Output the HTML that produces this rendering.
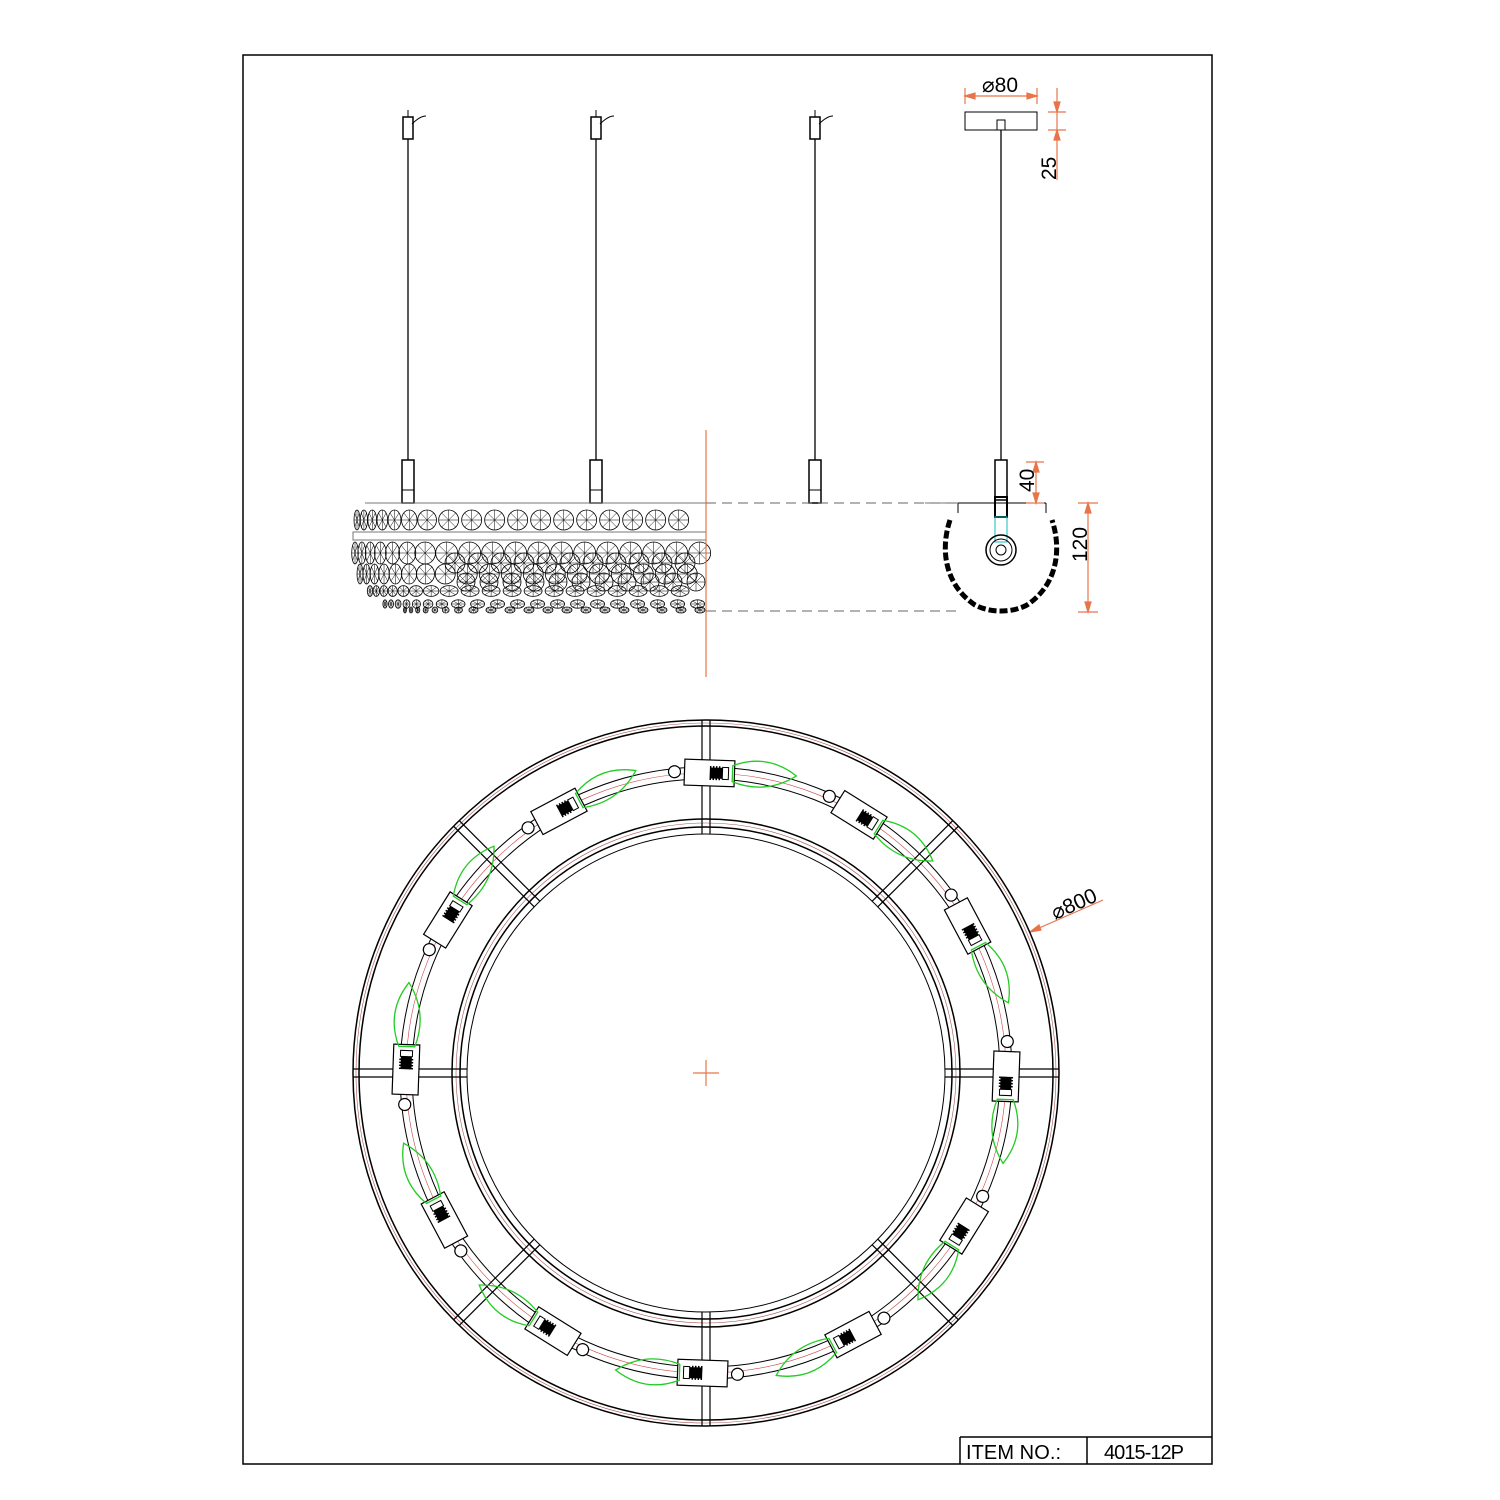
<!DOCTYPE html>
<html><head><style>
body{margin:0;background:#fff}
svg{display:block}
text{font-family:"Liberation Sans",sans-serif}
</style></head><body>
<svg id="s" width="1500" height="1500" viewBox="0 0 1500 1500" xmlns="http://www.w3.org/2000/svg">
<rect x="243" y="55" width="969" height="1409" fill="none" stroke="#000" stroke-width="1.5"/>
<line x1="960" y1="1437" x2="1212" y2="1437" stroke="#000" stroke-width="1.5"/>
<line x1="960" y1="1437" x2="960" y2="1464" stroke="#000" stroke-width="1.5"/>
<line x1="1087" y1="1437" x2="1087" y2="1464" stroke="#000" stroke-width="1.5"/>
<text x="966" y="1459" font-size="20" textLength="95">ITEM NO.:</text>
<text x="1104" y="1459" font-size="20" textLength="80">4015-12P</text>
<g id="front" stroke="#000" fill="none" stroke-width="1"></g>
<g id="side" stroke="#000" fill="none" stroke-width="1">
<rect x="965" y="112" width="72" height="18"/>
<rect x="997" y="120" width="8" height="10"/>
<line x1="1001" y1="130" x2="1001" y2="460" stroke-width="1.3"/>
<rect x="995" y="460" width="12" height="40" stroke-width="1.5"/>
<path d="M958 503 H1046 M958 503 V513 M1046 503 V513"/>
<rect x="995" y="497" width="12" height="20" stroke-width="2"/>
<rect x="995" y="517" width="12" height="25" stroke="#1bb"/>
<circle cx="1001" cy="550" r="15" stroke-width="1.5"/>
<circle cx="1001" cy="550" r="11"/>
<circle cx="1001" cy="550" r="5"/>
<path d="M950 520 C940 550 945 585 975 605 C990 613 1012 613 1027 605 C1057 585 1062 550 1052 520" stroke-width="5" stroke-dasharray="8 3"/>
<line x1="925" y1="503" x2="958" y2="503" stroke="#777"/>
</g>
<g stroke="#e8744a" fill="#e8744a" stroke-width="1.2">
<line x1="965" y1="96" x2="1037" y2="96"/><line x1="965" y1="88" x2="965" y2="104"/><line x1="1037" y1="88" x2="1037" y2="104"/>
<path d="M965 96 l10 -3 v6z M1037 96 l-10 -3 v6z"/>
<line x1="1057" y1="88" x2="1057" y2="180"/><line x1="1048" y1="112" x2="1066" y2="112"/><line x1="1048" y1="130" x2="1066" y2="130"/>
<path d="M1057 112 l-3 -10 h6z M1057 130 l-3 10 h6z"/>
<line x1="1036" y1="462" x2="1036" y2="503"/><line x1="1026" y1="462" x2="1044" y2="462"/><line x1="1026" y1="503" x2="1044" y2="503"/>
<path d="M1036 462 l-3 10 h6z M1036 503 l-3 -10 h6z"/>
<line x1="1088" y1="503" x2="1088" y2="612"/><line x1="1078" y1="503" x2="1098" y2="503"/><line x1="1078" y1="612" x2="1098" y2="612"/>
<path d="M1088 503 l-3 10 h6z M1088 612 l-3 -10 h6z"/>
<line x1="706" y1="430" x2="706" y2="677"/>
<line x1="1030" y1="932" x2="1103" y2="900"/><path d="M1030 932 l9 -7 l2 5z"/>
<line x1="693" y1="1073" x2="719" y2="1073"/><line x1="706" y1="1060" x2="706" y2="1086"/>
</g>
<g font-size="21" fill="#000">
<text x="982" y="92">⌀80</text>
<text transform="translate(1056,180) rotate(-90)">25</text>
<text transform="translate(1034,492) rotate(-90)">40</text>
<text transform="translate(1087,562) rotate(-90)">120</text>
<text transform="translate(1055,920) rotate(-24)">⌀800</text>
</g>
<g stroke="#666" stroke-dasharray="10 6"><line x1="706" y1="503" x2="960" y2="503"/><line x1="706" y1="611" x2="960" y2="611"/></g>
<g id="ring" fill="none" stroke="#000" stroke-width="1"></g>
</svg>
<script>
const NS="http://www.w3.org/2000/svg";
function el(p,t,a){const e=document.createElementNS(NS,t);for(const k in a)e.setAttribute(k,a[k]);p.appendChild(e);return e;}
const F=document.getElementById('front');
[408,596,815].forEach(x=>{
 el(F,'rect',{x:x-5,y:117,width:10,height:22,'stroke-width':1.5});
 el(F,'line',{x1:x,y1:110,x2:x,y2:117});
 el(F,'path',{d:`M${x+4} 124 q8 -8 14 -8`});
 el(F,'line',{x1:x,y1:139,x2:x,y2:460,'stroke-width':1.3});
 el(F,'rect',{x:x-6,y:460,width:12,height:43,'stroke-width':1.5});
 el(F,'line',{x1:x-6,y1:490,x2:x+6,y2:490});
});
el(F,'line',{x1:365,y1:503,x2:706,y2:503,stroke:'#777'});
el(F,'rect',{x:353,y:532,width:353,height:8,stroke:'#777'});
function cr(cx,cy,rx,ry){el(F,'ellipse',{cx,cy,rx,ry,'stroke-width':0.8});
 for(let i=0;i<4;i++){const a=i*Math.PI/4;el(F,'line',{x1:cx-rx*Math.cos(a),y1:cy-ry*Math.sin(a),x2:cx+rx*Math.cos(a),y2:cy+ry*Math.sin(a),'stroke-width':0.5});}}
const rows=[[520,10,357,23],[553,11,355,23],[574,10,360,22],[591,9,370,21],[604,7,385,20],[610,5,405,19]];
rows.forEach(([y,r,x0,st])=>{let x=x0;while(x<=700){const sq=Math.min(1,0.3+(x-x0)/110);cr(x,y,r*sq,r*(y>590?0.6:1));x+=Math.max(6,st*sq);}});
for(let x=455;x<=700;x+=23){cr(x,563,10,10);cr(x+11,582,9,9);}
const R=document.getElementById('ring');const cx=706,cy=1073;
[[353,1.5],[347,1.5],[254,1.5],[246,1.5],[239,1],[306,1],[294,1]].forEach(([r,w])=>el(R,'circle',{cx,cy,r,'stroke-width':w}));
[350,250].forEach(r=>el(R,'circle',{cx,cy,r,stroke:'#a55','stroke-width':0.6}));
el(R,'circle',{cx,cy,r:300,stroke:'#c44','stroke-width':0.6});
for(let k=0;k<8;k++){const a=k*Math.PI/4;const c=Math.cos(a),s=Math.sin(a);
 [-4,4].forEach(o=>el(R,'line',{x1:cx+c*239-s*o,y1:cy+s*239+c*o,x2:cx+c*353-s*o,y2:cy+s*353+c*o,'stroke-width':1.2}));}
for(let k=0;k<12;k++){const deg=-88+k*30;const g=el(R,'g',{transform:`translate(${cx},${cy}) rotate(${deg}) translate(300,0) rotate(90)`});
 el(g,'rect',{x:-32,y:-13,width:50,height:26,fill:'#fff','stroke-width':1.2});
 el(g,'rect',{x:-6,y:-5,width:12,height:10,fill:'#000'});
 for(let i=0;i<4;i++)el(g,'line',{x1:-6+i*3,y1:-7,x2:-6+i*3,y2:7,'stroke-width':1.5});
 el(g,'rect',{x:6,y:-6,width:6,height:12,fill:'#fff'});
 el(g,'circle',{cx:-42,cy:0,r:6,fill:'#fff','stroke-width':1.2});
 el(g,'path',{d:'M16 -8 Q50 -22 80 0 Q50 20 16 8 Z',stroke:'#2c2','stroke-width':1.3});
}
</script>
</body></html>
